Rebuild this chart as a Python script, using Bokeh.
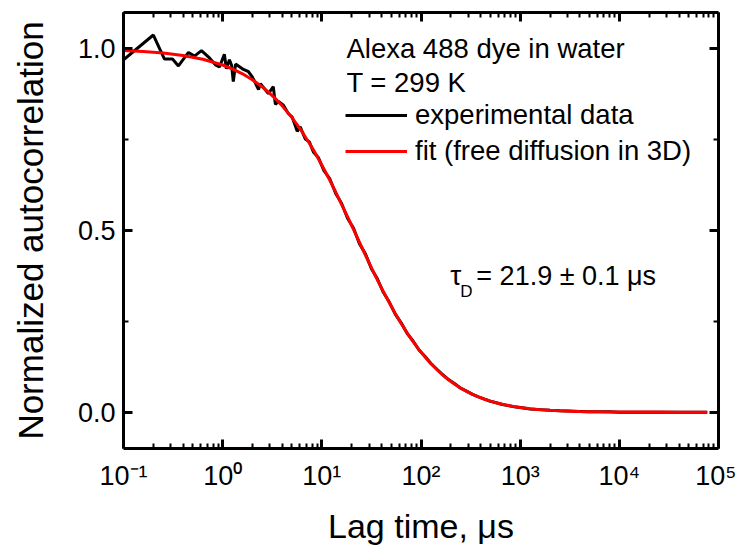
from bokeh.plotting import figure
from bokeh.models import (LogAxis, LinearAxis, FixedTicker, Label,
                          Legend, LegendItem, PrintfTickFormatter, CustomJSTickFormatter)
from bokeh.embed import file_html
from bokeh.resources import INLINE

FONT = "Liberation Sans"

# ---------------- data ----------------
exp_tau = [0.1, 0.2, 0.259, 0.312, 0.358, 0.452, 0.520, 0.611, 0.736, 0.846,
           0.929, 1.04, 1.09, 1.17, 1.23, 1.28, 1.35, 1.58, 1.82, 1.99,
           2.30, 2.40, 2.89, 3.24, 3.40, 3.66, 4.10, 4.59, 5.03, 5.65,
           6.05, 6.81, 7.48, 8.22, 9.25, 10.5, 12.0, 13.8, 15.8, 18.2,
           20.9, 24.0, 27.5, 31.6, 36.3, 41.7, 47.9, 55.0, 63.1, 72.4,
           83.2, 95.5, 110, 126, 145, 166, 191, 219, 251, 288,
           331, 380, 437, 501, 575, 661, 759, 871, 1000, 1260,
           1585, 2000, 2512, 3162, 3981, 5012, 6310, 7943, 10000, 15850,
           25120, 39810, 63100, 77000]
exp_g = [0.970, 1.038, 0.972, 0.972, 0.953, 0.990, 0.980, 0.995, 0.975, 0.956,
         0.950, 0.985, 0.945, 0.970, 0.955, 0.910, 0.958, 0.945, 0.937, 0.923,
         0.888, 0.904, 0.877, 0.896, 0.847, 0.855, 0.845, 0.822, 0.812, 0.773,
         0.785, 0.752, 0.744, 0.716, 0.700, 0.665, 0.643, 0.602, 0.575, 0.533,
         0.506, 0.463, 0.436, 0.395, 0.367, 0.330, 0.303, 0.270, 0.246, 0.217,
         0.196, 0.171, 0.153, 0.134, 0.118, 0.103, 0.089, 0.078, 0.066, 0.058,
         0.049, 0.042, 0.036, 0.030, 0.026, 0.021, 0.018, 0.015, 0.013, 0.009,
         0.007, 0.005, 0.004, 0.003, 0.002, 0.001, 0.001, 0.001, 0.000, 0.000,
         0.000, 0.000, 0.000, 0.000]

fit_tau = [0.1, 0.1585, 0.2512, 0.3981, 0.631, 1.0, 1.28, 1.585, 1.99, 2.512,
           2.89, 3.40, 3.981, 4.59, 5.03, 5.65, 6.31, 7.48, 8.22, 9.25,
           10.5, 12.0, 13.8, 15.8, 18.2, 20.9, 24.0, 27.5, 31.6, 36.3,
           41.7, 47.9, 55.0, 63.1, 72.4, 83.2, 95.5, 110, 126, 145,
           166, 191, 219, 251, 288, 331, 380, 437, 501, 575,
           661, 759, 871, 1000, 1260, 1585, 2000, 2512, 3162, 3981,
           5012, 6310, 7943, 10000, 15850, 25120, 39810, 63100, 77000]
fit_g = [0.9954, 0.9927, 0.9884, 0.9818, 0.9714, 0.9555, 0.9437, 0.9312, 0.9150, 0.8951,
         0.881, 0.863, 0.8431, 0.823, 0.8095, 0.7908, 0.7719, 0.740, 0.722, 0.697,
         0.6695, 0.639, 0.6059, 0.572, 0.5372, 0.5023, 0.4670, 0.4326, 0.3980, 0.3643,
         0.3319, 0.3009, 0.2715, 0.2440, 0.2182, 0.1942, 0.1721, 0.1515, 0.1335, 0.1167,
         0.1021, 0.0886, 0.0768, 0.0665, 0.0572, 0.0490, 0.0419, 0.0356, 0.0303, 0.0256,
         0.0216, 0.0182, 0.01525, 0.01275, 0.0094, 0.00691, 0.0050, 0.00366, 0.00264, 0.00190,
         0.00137, 0.00098, 0.00070, 0.00050, 0.00025, 0.00013, 0.00006, 0.00003, 0.00002]

assert len(exp_tau) == len(exp_g)
assert len(fit_tau) == len(fit_g)

x_major = [0.1, 1, 10, 100, 1000, 10000, 100000]
x_labels = ["10⁻¹", "10⁰", "10¹", "10²", "10³", "10⁴", "10⁵"]
y_major = [0.0, 0.5, 1.0]
y_minor = [0.25, 0.75]

header_lines = ["Alexa 488 dye in water", "T = 299 K"]
legend_labels = ["experimental data", "fit (free diffusion in 3D)"]

# ---------------- figure ----------------
p = figure(width=736, height=547, x_axis_type="log",
           x_range=(0.1, 1e5), y_range=(-0.1, 1.1),
           output_backend="svg", toolbar_location=None,
           min_border_left=123, min_border_right=18,
           min_border_top=12, min_border_bottom=98)
p.xgrid.visible = False
p.ygrid.visible = False
p.outline_line_color = None
p.background_fill_color = "white"
p.border_fill_color = "white"

x_minor = [d * m for d in x_major[:-1] for m in range(2, 10)]
xticker = FixedTicker(ticks=x_major, minor_ticks=x_minor)
yticker = FixedTicker(ticks=y_major, minor_ticks=y_minor)


def style(ax):
    ax.axis_line_width = 3
    ax.axis_line_color = "black"
    ax.major_tick_in = 9
    ax.major_tick_out = 0
    ax.minor_tick_in = 5
    ax.minor_tick_out = 0
    ax.major_tick_line_width = 3
    ax.minor_tick_line_width = 2
    ax.major_label_text_font = FONT
    ax.major_label_text_color = "black"
    ax.axis_label_text_font = FONT
    ax.axis_label_text_font_style = "normal"
    ax.axis_label_text_color = "black"


def hide_labels(ax):
    ax.major_label_text_font_size = "1px"
    ax.major_label_text_color = None
    ax.major_label_standoff = 0


xa = p.xaxis[0]
style(xa)
xa.ticker = xticker
xa.formatter = CustomJSTickFormatter(args=dict(majors=x_major, labs=x_labels), code="""
    for (let i = 0; i < majors.length; i++) {
        if (Math.abs(Math.log10(majors[i]) - Math.log10(tick)) < 1e-6) return labs[i];
    }
    return "";
""")
xa.major_label_text_font_size = "27px"
xa.major_label_standoff = 12
xa.axis_label = "Lag time, μs"
xa.axis_label_text_font_size = "34px"
xa.axis_label_standoff = 13

ya = p.yaxis[0]
style(ya)
ya.ticker = yticker
ya.formatter = PrintfTickFormatter(format="%.1f")
ya.major_label_text_font_size = "27px"
ya.major_label_standoff = 8
ya.axis_label = "Normalized autocorrelation"
ya.axis_label_text_font_size = "35px"
ya.axis_label_standoff = 25

top = LogAxis(ticker=xticker)
style(top)
hide_labels(top)
p.add_layout(top, "above")

right = LinearAxis(ticker=yticker)
style(right)
hide_labels(right)
p.add_layout(right, "right")

# ---------------- curves ----------------
r_exp = p.line(exp_tau, exp_g, line_color="black", line_width=3)
r_fit = p.line(fit_tau, fit_g, line_color="#ff0000", line_width=3)

# ---------------- annotations ----------------
p.add_layout(Label(x=17.7, y=1.0, text=header_lines[0], text_font=FONT,
                   text_font_size="27.5px", text_baseline="alphabetic", text_color="black"))
p.add_layout(Label(x=17.7, y=0.907, text=header_lines[1], text_font=FONT,
                   text_font_size="27.5px", text_baseline="alphabetic", text_color="black"))

p.add_layout(Label(x=197.7, y=0.375, text="τ", text_font=FONT,
                   text_font_size="28px", text_baseline="alphabetic", text_color="black"))
p.add_layout(Label(x=197.7, y=0.375, x_offset=10, y_offset=-16, text="D", text_font=FONT,
                   text_font_size="17px", text_baseline="alphabetic", text_color="black"))
p.add_layout(Label(x=197.7, y=0.375, x_offset=26, text="= 21.9 ± 0.1 μs", text_font=FONT,
                   text_font_size="27px", text_baseline="alphabetic", text_color="black"))

legend = Legend(items=[LegendItem(label=legend_labels[0], renderers=[r_exp]),
                       LegendItem(label=legend_labels[1], renderers=[r_fit])],
                location=(222, 281), glyph_width=62, glyph_height=30,
                label_height=30, label_standoff=8, spacing=4, padding=0, margin=0,
                label_text_font=FONT, label_text_font_size="27.5px",
                label_text_color="black",
                border_line_color=None, background_fill_alpha=0)
p.add_layout(legend)

open("out.html", "w").write(file_html(p, INLINE))
